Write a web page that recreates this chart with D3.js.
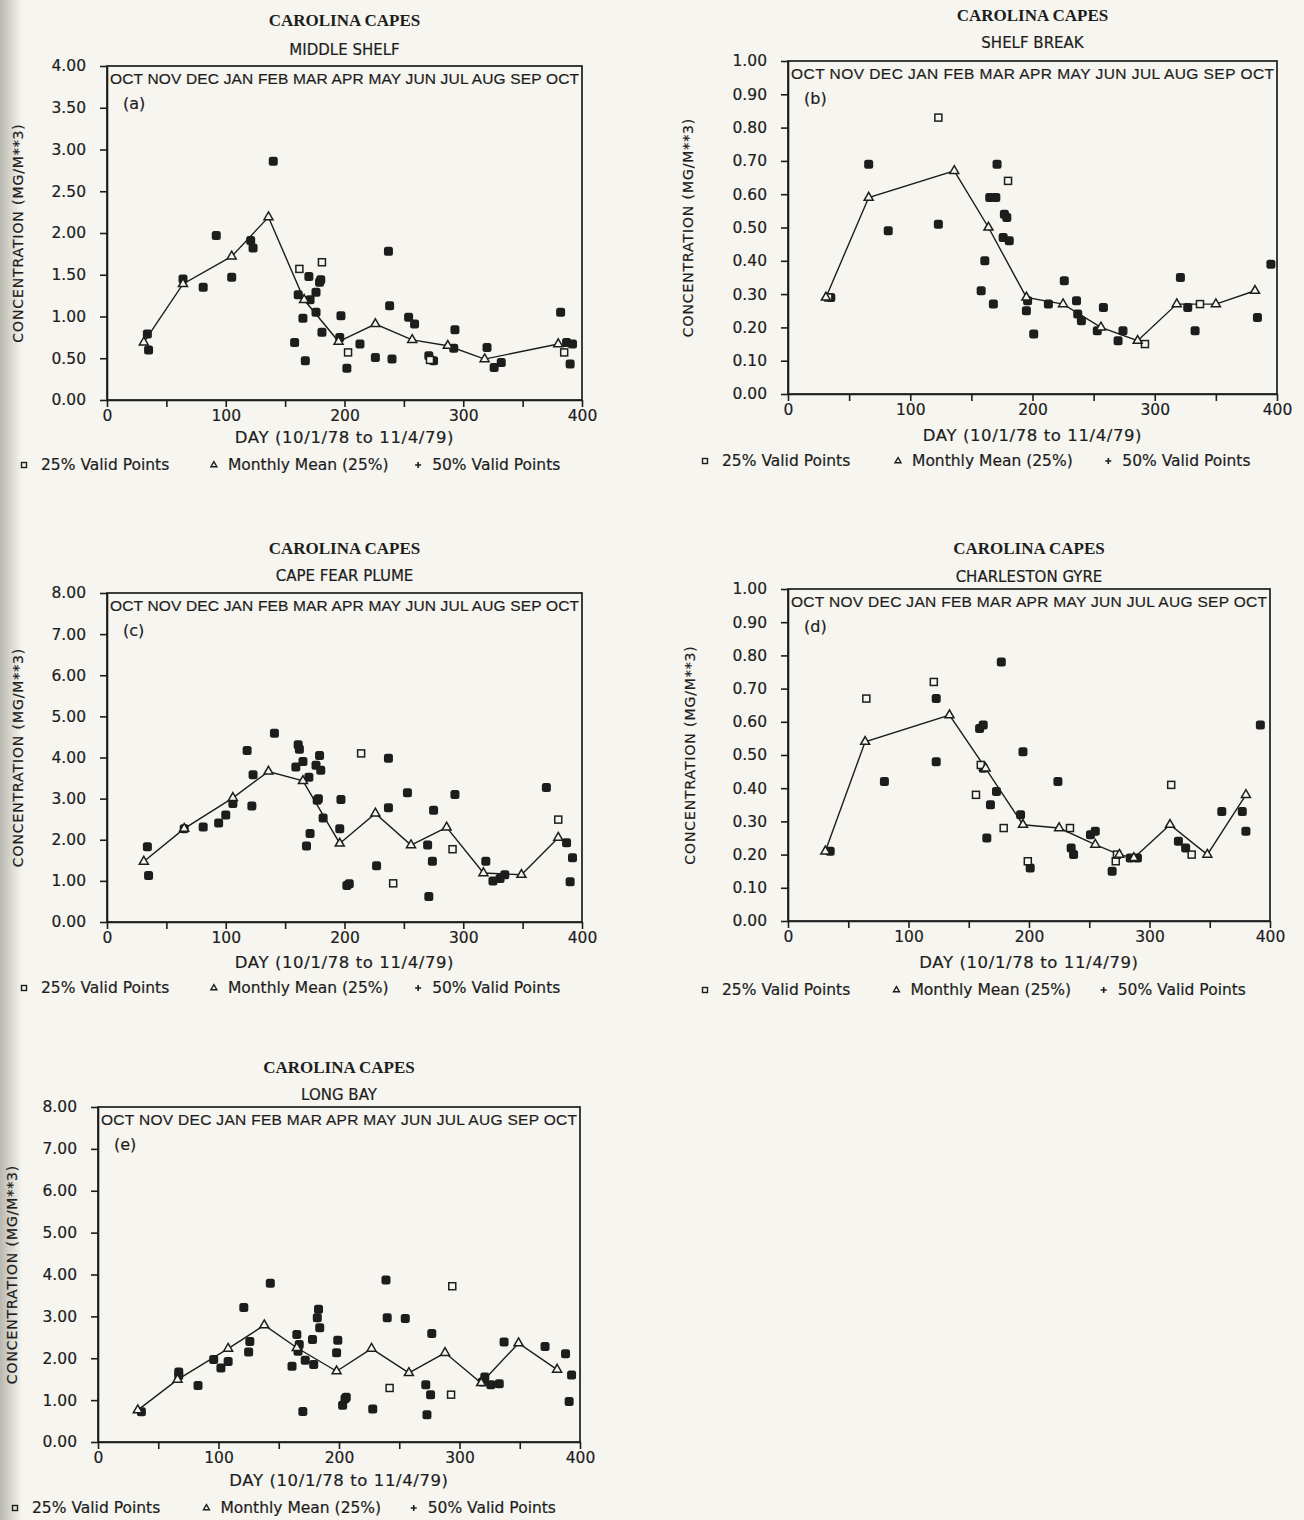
<!DOCTYPE html>
<meta charset="utf-8">
<style>
body { margin: 0; background: #f6f5ef; }
svg { display: block; }
</style>
<svg width="1304" height="1520"></svg>
<script src="https://cdn.jsdelivr.net/npm/d3@7/dist/d3.min.js"></script>
<script>

// ---- data (day, mg/m**3) ----
var months = ["OCT", "NOV", "DEC", "JAN", "FEB", "MAR", "APR", "MAY", "JUN", "JUL", "AUG", "SEP", "OCT"];
var legendLabels = ["25% Valid Points", "Monthly Mean (25%)", "50% Valid Points"];
var xTicks = [0, 50, 100, 150, 200, 250, 300, 350, 400];
var yTicksA = [0, 0.5, 1, 1.5, 2, 2.5, 3, 3.5, 4];
var yTicksB = [0, 0.1, 0.2, 0.3, 0.4, 0.5, 0.6, 0.7, 0.8, 0.9, 1];
var yTicksC = [0, 1, 2, 3, 4, 5, 6, 7, 8];

// (a) middle shelf
var aMean = [[31,0.69],[64,1.39],[105,1.72],[136,2.19],[166,1.20],[195,0.70],[226,0.91],[257,0.72],[287,0.65],[318,0.49],[380,0.67]];
var aFull = [[34,0.79],[35,0.60],[64,1.45],[81,1.35],[92,1.97],[105,1.47],[121,1.91],[123,1.82],[140,2.86],[158,0.69],[161,1.26],[165,0.98],[167,0.47],[170,1.48],[171,1.20],[176,1.29],[176,1.05],[179,1.41],[180,1.44],[181,0.81],[196,0.75],[197,1.01],[202,0.38],[213,0.67],[226,0.51],[237,1.78],[238,1.13],[240,0.49],[254,0.99],[259,0.91],[271,0.53],[275,0.47],[292,0.62],[293,0.84],[320,0.63],[326,0.39],[332,0.45],[382,1.05],[387,0.69],[390,0.43],[392,0.67]];
var aOpen = [[162,1.57],[181,1.65],[203,0.57],[272,0.48],[385,0.57]];

// (b) shelf break
var bMean = [[31,0.29],[66,0.59],[136,0.67],[164,0.50],[195,0.29],[225,0.27],[256,0.20],[286,0.16],[318,0.27],[350,0.27],[382,0.31]];
var bFull = [[35,0.29],[66,0.69],[82,0.49],[123,0.51],[158,0.31],[161,0.40],[165,0.59],[168,0.27],[170,0.59],[171,0.69],[176,0.47],[177,0.54],[179,0.53],[181,0.46],[195,0.25],[196,0.28],[201,0.18],[213,0.27],[226,0.34],[236,0.28],[237,0.24],[240,0.22],[253,0.19],[258,0.26],[270,0.16],[274,0.19],[321,0.35],[327,0.26],[333,0.19],[384,0.23],[395,0.39]];
var bOpen = [[33,0.29],[123,0.83],[180,0.64],[292,0.15],[337,0.27]];

// (c) cape fear plume
var cMean = [[31,1.47],[65,2.27],[106,3.02],[136,3.66],[165,3.43],[196,1.91],[226,2.64],[256,1.87],[286,2.30],[317,1.19],[349,1.15],[380,2.05]];
var cFull = [[34,1.83],[35,1.13],[65,2.27],[81,2.31],[94,2.41],[100,2.60],[106,2.88],[118,4.17],[122,2.82],[123,3.58],[141,4.59],[159,3.77],[161,4.31],[162,4.20],[165,3.90],[168,1.85],[170,3.52],[171,2.15],[176,3.81],[177,2.96],[178,3.00],[179,4.05],[180,3.69],[182,2.53],[196,2.27],[197,2.98],[202,0.89],[204,0.93],[227,1.37],[237,3.98],[237,2.78],[253,3.14],[270,1.87],[271,0.62],[274,1.48],[275,2.72],[293,3.10],[319,1.48],[325,1.00],[331,1.06],[335,1.15],[370,3.27],[387,1.93],[390,0.98],[392,1.56]];
var cOpen = [[214,4.10],[241,0.94],[291,1.77],[380,2.49]];

// (d) charleston gyre
var dMean = [[31,0.21],[64,0.54],[134,0.62],[164,0.46],[195,0.29],[225,0.28],[255,0.23],[275,0.20],[287,0.19],[317,0.29],[348,0.20],[380,0.38]];
var dFull = [[35,0.21],[80,0.42],[123,0.67],[123,0.48],[159,0.58],[162,0.59],[162,0.46],[165,0.25],[168,0.35],[173,0.39],[177,0.78],[193,0.32],[195,0.51],[201,0.16],[224,0.42],[235,0.22],[237,0.20],[251,0.26],[255,0.27],[269,0.15],[284,0.19],[290,0.19],[324,0.24],[330,0.22],[360,0.33],[377,0.33],[380,0.27],[392,0.59]];
var dOpen = [[65,0.67],[121,0.72],[156,0.38],[160,0.47],[179,0.28],[199,0.18],[234,0.28],[272,0.18],[273,0.20],[318,0.41],[335,0.20]];

// (e) long bay
var eMean = [[33,0.76],[66,1.49],[108,2.23],[138,2.79],[165,2.25],[198,1.69],[227,2.23],[258,1.65],[288,2.13],[318,1.41],[349,2.36],[381,1.73]];
var eFull = [[36,0.72],[67,1.67],[67,1.59],[83,1.35],[96,1.97],[102,1.77],[108,1.92],[121,3.21],[125,2.15],[126,2.40],[143,3.79],[161,1.81],[165,2.57],[166,2.17],[167,2.33],[170,0.73],[172,1.95],[178,2.45],[179,1.85],[182,2.97],[183,3.17],[184,2.73],[198,2.13],[199,2.43],[203,0.88],[205,1.03],[206,1.07],[228,0.79],[239,3.87],[240,2.97],[255,2.95],[272,1.37],[273,0.65],[276,1.13],[277,2.59],[319,1.43],[321,1.55],[326,1.37],[333,1.39],[337,2.39],[371,2.28],[388,2.11],[391,0.97],[393,1.60]];
var eOpen = [[242,1.29],[293,1.13],[294,3.72]];

var ink = "#1d1d1d";
var paper = "#f6f5ef";
var sans = "'DejaVu Sans', sans-serif";

var panels = [
  {tag: "(a)", sub: "MIDDLE SHELF", left: 107, right: 582, top: 66, bottom: 400, yMax: 4, yTicks: yTicksA,
   titleY: 20, subY: 50, dayY: 437, legY: 465, ylabX: 18, mean: aMean, full: aFull, open: aOpen},
  {tag: "(b)", sub: "SHELF BREAK", left: 788, right: 1277, top: 61, bottom: 394, yMax: 1, yTicks: yTicksB,
   titleY: 15, subY: 43, dayY: 435, legY: 461, ylabX: 688, mean: bMean, full: bFull, open: bOpen},
  {tag: "(c)", sub: "CAPE FEAR PLUME", left: 107, right: 582, top: 593, bottom: 922, yMax: 8, yTicks: yTicksC,
   titleY: 548, subY: 576, dayY: 962, legY: 988, ylabX: 18, mean: cMean, full: cFull, open: cOpen},
  {tag: "(d)", sub: "CHARLESTON GYRE", left: 788, right: 1270, top: 589, bottom: 921, yMax: 1, yTicks: yTicksB,
   titleY: 548, subY: 577, dayY: 962, legY: 990, ylabX: 690, mean: dMean, full: dFull, open: dOpen},
  {tag: "(e)", sub: "LONG BAY", left: 98, right: 580, top: 1107, bottom: 1442, yMax: 8, yTicks: yTicksC,
   titleY: 1067, subY: 1095, dayY: 1480, legY: 1508, ylabX: 12, mean: eMean, full: eFull, open: eOpen}
];

var svg = d3.select("svg");

// scanned page look: grey gutter on the left edge
var grad = svg.append("defs").append("linearGradient").attr("id", "gutter");
grad.append("stop").attr("offset", "0%").attr("stop-color", "#b9b8b0");
grad.append("stop").attr("offset", "100%").attr("stop-color", paper);
svg.append("rect").attr("width", 1304).attr("height", 1520).attr("fill", paper);
svg.append("rect").attr("width", 22).attr("height", 1520).attr("fill", "url(#gutter)");

function tri(s) {
  var h = s * Math.sqrt(3) / 2;
  return "M0," + (-h * 2 / 3) + "L" + (s / 2) + "," + (h / 3) + "L" + (-s / 2) + "," + (h / 3) + "Z";
}

// slightly heavier type, like the photocopied original
function inked(sel) {
  return sel.attr("fill", ink).attr("stroke", ink).attr("stroke-width", 0.2);
}

panels.forEach(function(p) {
  var x = d3.scaleLinear().domain([0, 400]).range([p.left, p.right]),
      y = d3.scaleLinear().domain([0, p.yMax]).range([p.bottom, p.top]),
      cx = (p.left + p.right) / 2,
      w = p.right - p.left;

  var g = svg.append("g");

  g.append("text").attr("x", cx).attr("y", p.titleY).attr("dy", "0.35em")
      .attr("text-anchor", "middle").style("font", "bold 17px 'Liberation Serif', serif").attr("fill", ink)
      .text("CAROLINA CAPES");
  inked(g.append("text").attr("x", cx).attr("y", p.subY).attr("dy", "0.35em")
      .attr("text-anchor", "middle").style("font", "15px " + sans))
      .text(p.sub);

  // axes
  var ya = g.append("g").attr("transform", "translate(" + p.left + ",0)")
      .call(d3.axisLeft(y).tickValues(p.yTicks).tickFormat(d3.format(".2f")).tickSize(7).tickSizeOuter(0).tickPadding(14));
  var xa = g.append("g").attr("transform", "translate(0," + p.bottom + ")")
      .call(d3.axisBottom(x).tickValues(xTicks).tickFormat(function(d) { return d % 100 === 0 ? d : ""; })
        .tickSize(7).tickSizeOuter(0).tickPadding(3));
  [ya, xa].forEach(function(a) {
    inked(a.selectAll("text").style("font", "15.5px " + sans));
    a.selectAll("line,path").attr("stroke", ink).attr("stroke-width", 1.6);
  });

  g.append("rect").attr("x", p.left).attr("y", p.top).attr("width", w).attr("height", p.bottom - p.top)
      .attr("fill", "none").attr("stroke", ink).attr("stroke-width", 1.7);

  // month names run across the top of the frame, one string spread to its width
  inked(g.append("text").attr("x", p.left + 3).attr("y", p.top + 18)
      .attr("textLength", w - 6).attr("lengthAdjust", "spacing")
      .style("font", "15.5px 'Liberation Sans', sans-serif"))
      .text(months.join(" "));
  inked(g.append("text").attr("x", p.left + 16).attr("y", p.top + 37).attr("dy", "0.35em")
      .style("font", "16px " + sans)).text(p.tag);

  inked(g.append("text").attr("transform", "translate(" + p.ylabX + "," + ((p.top + p.bottom) / 2) + ") rotate(-90)")
      .attr("text-anchor", "middle").attr("dy", "0.35em")
      .style("font", "14px " + sans).style("letter-spacing", "0.9px"))
      .text("CONCENTRATION (MG/M**3)");
  inked(g.append("text").attr("x", cx).attr("y", p.dayY).attr("dy", "0.35em")
      .attr("text-anchor", "middle").style("font", "16.5px " + sans).style("letter-spacing", "0.6px"))
      .text("DAY (10/1/78 to 11/4/79)");

  // monthly mean line
  g.append("path").datum(p.mean)
      .attr("fill", "none").attr("stroke", ink).attr("stroke-width", 1.4)
      .attr("d", d3.line().x(function(d) { return x(d[0]); }).y(function(d) { return y(d[1]); }));

  g.selectAll(".full").data(p.full).enter().append("rect")
      .attr("x", function(d) { return x(d[0]) - 4.5; })
      .attr("y", function(d) { return y(d[1]) - 4.5; })
      .attr("width", 9).attr("height", 9).attr("rx", 2.5)
      .attr("fill", ink);

  g.selectAll(".open").data(p.open).enter().append("rect")
      .attr("x", function(d) { return x(d[0]) - 3.5; })
      .attr("y", function(d) { return y(d[1]) - 3.5; })
      .attr("width", 7).attr("height", 7)
      .attr("fill", paper).attr("stroke", ink).attr("stroke-width", 1.5);

  g.selectAll(".mean").data(p.mean).enter().append("path")
      .attr("transform", function(d) { return "translate(" + x(d[0]) + "," + y(d[1]) + ")"; })
      .attr("d", tri(9))
      .attr("fill", paper).attr("stroke", ink).attr("stroke-width", 1.5);

  // legend
  var lx = [p.left - 83, p.left + 0.225 * w, p.left + 0.655 * w];
  var leg = g.append("g").attr("transform", "translate(0," + p.legY + ")");
  leg.append("rect").attr("x", lx[0] - 2.5).attr("y", -2.5).attr("width", 5).attr("height", 5)
      .attr("fill", "none").attr("stroke", ink).attr("stroke-width", 1.4);
  leg.append("path").attr("transform", "translate(" + lx[1] + ",0)").attr("d", tri(6))
      .attr("fill", "none").attr("stroke", ink).attr("stroke-width", 1.4);
  leg.append("path").attr("d", "M" + (lx[2] - 3) + ",0H" + (lx[2] + 3) + "M" + lx[2] + ",-3V3")
      .attr("stroke", ink).attr("stroke-width", 1.6);
  inked(leg.selectAll("text").data(legendLabels).enter().append("text")
      .attr("x", function(d, i) { return lx[i] + (i === 0 ? 17 : 14); })
      .attr("dy", "0.35em")
      .style("font", "15.5px " + sans))
      .text(function(d) { return d; });
});

</script>
